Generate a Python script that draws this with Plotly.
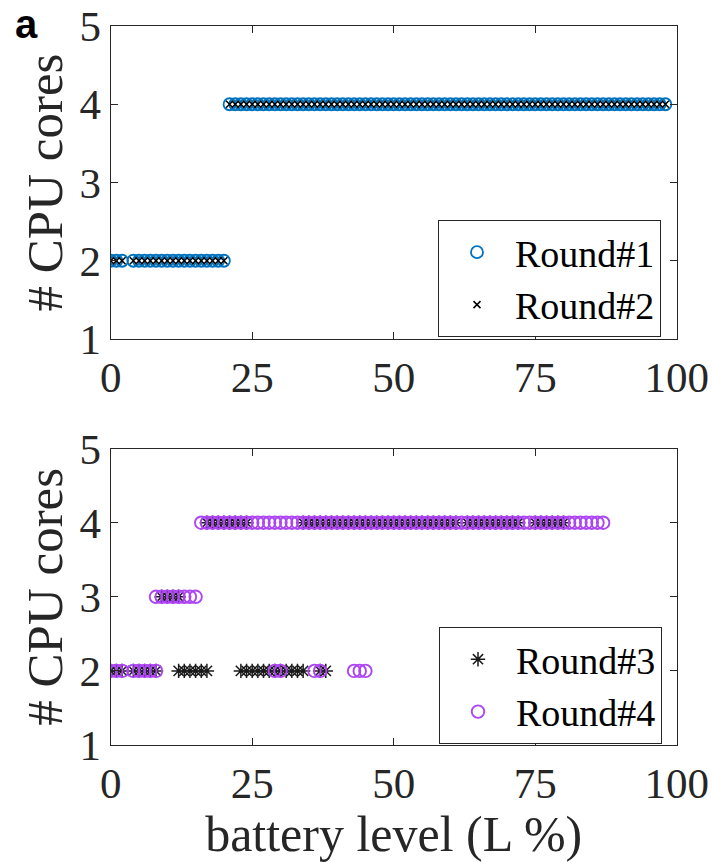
import plotly.graph_objects as go

# ---------------- data (battery level %, number of CPU cores) ----------------
# Top panel
r1_x_2 = [0, 1, 2, 4, 5, 6, 7, 8, 9, 10, 11, 12, 13, 14, 15, 16, 17, 18, 19, 20]
r1_x_4 = [21, 22, 23, 24, 25, 26, 27, 28, 29, 30, 31, 32, 33, 34, 35, 36, 37, 38, 39, 40,
          41, 42, 43, 44, 45, 46, 47, 48, 49, 50, 51, 52, 53, 54, 55, 56, 57, 58, 59, 60,
          61, 62, 63, 64, 65, 66, 67, 68, 69, 70, 71, 72, 73, 74, 75, 76, 77, 78, 79, 80,
          81, 82, 83, 84, 85, 86, 87, 88, 89, 90, 91, 92, 93, 94, 95, 96, 97, 98]
round1_x = r1_x_2 + r1_x_4
round1_y = [2] * len(r1_x_2) + [4] * len(r1_x_4)
round2_x = list(round1_x)
round2_y = list(round1_y)

# Bottom panel
r3_x_2 = [0, 1, 2, 4, 5, 6, 7, 8, 12, 13, 14, 15, 16, 17,
          23, 24, 25, 26, 27, 28, 29, 30, 31, 32, 33, 34, 37, 38]
r3_x_3 = [9, 10, 11, 12]
r3_x_4 = [17, 18, 19, 20, 21, 22, 23, 24,
          34, 35, 36, 37, 38, 39, 40, 41, 42, 43, 44, 45, 46, 47, 48, 49, 50, 51, 52, 53,
          54, 55, 56, 57, 58, 59, 60, 61, 63, 64, 65, 66, 67, 68, 69, 70, 71, 72,
          75, 76, 77, 78, 79, 80]
round3_x = r3_x_2 + r3_x_3 + r3_x_4
round3_y = [2] * len(r3_x_2) + [3] * len(r3_x_3) + [4] * len(r3_x_4)

r4_x_2 = [0, 1, 2, 4, 5, 6, 7, 8, 29, 30, 36, 37, 43, 44, 45]
r4_x_3 = [8, 9, 10, 11, 12, 13, 14, 15]
r4_x_4 = [16, 17, 18, 19, 20, 21, 22, 23, 24, 25, 26, 27, 28, 29, 30, 31, 32, 33, 34, 35,
          36, 37, 38, 39, 40, 41, 42, 43, 44, 45, 46, 47, 48, 49, 50, 51, 52, 53, 54, 55,
          56, 57, 58, 59, 60, 61, 62, 63, 64, 65, 66, 67, 68, 69, 70, 71, 72, 73, 74, 75,
          76, 77, 78, 79, 80, 81, 82, 83, 84, 85, 86, 87]
round4_x = r4_x_2 + r4_x_3 + r4_x_4
round4_y = [2] * len(r4_x_2) + [3] * len(r4_x_3) + [4] * len(r4_x_4)

x_ticks = [0, 25, 50, 75, 100]
y_ticks = [1, 2, 3, 4, 5]

# ---------------- figure ----------------
W, H = 712, 862
SERIF = "Liberation Serif"
AX = "#262626"
BLUE = "#0072BD"
PURPLE = "#AE45F3"

fig = go.Figure()
fig.add_trace(go.Scatter(x=round1_x, y=round1_y, mode="markers", name="Round#1",
                         marker=dict(symbol="circle-open", size=12, color=BLUE,
                                     line=dict(width=1.8, color=BLUE)),
                         xaxis="x", yaxis="y", legend="legend"))
fig.add_trace(go.Scatter(x=round2_x, y=round2_y, mode="markers", name="Round#2",
                         marker=dict(symbol="x-thin-open", size=7, color="black",
                                     line=dict(width=1.5, color="black")),
                         xaxis="x", yaxis="y", legend="legend"))
fig.add_trace(go.Scatter(x=round3_x, y=round3_y, mode="markers", name="Round#3",
                         marker=dict(symbol="asterisk-open", size=12, color="#1a1a1a",
                                     line=dict(width=1.5, color="#1a1a1a")),
                         xaxis="x2", yaxis="y2", legend="legend2"))
fig.add_trace(go.Scatter(x=round4_x, y=round4_y, mode="markers", name="Round#4",
                         marker=dict(symbol="circle-open", size=12.5, color=PURPLE,
                                     line=dict(width=1.9, color=PURPLE)),
                         xaxis="x2", yaxis="y2", legend="legend2"))

xdom = [110.7 / W, 676.7 / W]
ydom_top = [1 - 339 / H, 1 - 26 / H]
ydom_bot = [1 - 745 / H, 1 - 448.6 / H]

def xaxis(anchor, title=None):
    d = dict(domain=xdom, anchor=anchor, range=[0, 100], tickvals=x_ticks,
             ticks="inside", ticklen=7, tickwidth=1, tickcolor=AX,
             showline=True, linecolor=AX, linewidth=1, mirror="ticks",
             showgrid=False, zeroline=False, automargin=False,
             tickfont=dict(family=SERIF, size=43, color=AX))
    if title:
        d["title"] = dict(text=title, font=dict(family=SERIF, size=50, color=AX), standoff=5)
    return d

def yaxis(anchor, dom):
    return dict(domain=dom, anchor=anchor, range=[1, 5], tickvals=y_ticks,
                ticks="inside", ticklen=7, tickwidth=1, tickcolor=AX,
                showline=True, linecolor=AX, linewidth=1, mirror="ticks",
                showgrid=False, zeroline=False, automargin=False,
                tickfont=dict(family=SERIF, size=43, color=AX),
                title=dict(text="# CPU cores", font=dict(family=SERIF, size=51, color=AX),
                           standoff=0))

legend_common = dict(xanchor="left", yanchor="top", bgcolor="white",
                     bordercolor=AX, borderwidth=1, itemwidth=66,
                     font=dict(family=SERIF, size=38, color="black"))

fig.update_layout(
    width=W, height=H, margin=dict(l=0, r=0, t=0, b=0, autoexpand=False),
    paper_bgcolor="white", plot_bgcolor="white",
    xaxis=xaxis("y"), yaxis=yaxis("x", ydom_top),
    xaxis2=xaxis("y2", "battery level (L %)"), yaxis2=yaxis("x2", ydom_bot),
    legend=dict(x=438 / W, y=1 - 220 / H, **legend_common),
    legend2=dict(x=439 / W, y=1 - 627 / H, **legend_common),
    annotations=[dict(text="<b>a</b>", x=26 / W, y=1.0, xref="paper", yref="paper",
                      xanchor="center", yanchor="top", showarrow=False,
                      font=dict(family="Liberation Sans", size=40, color="black"))],
)

fig.write_html("out.html")
